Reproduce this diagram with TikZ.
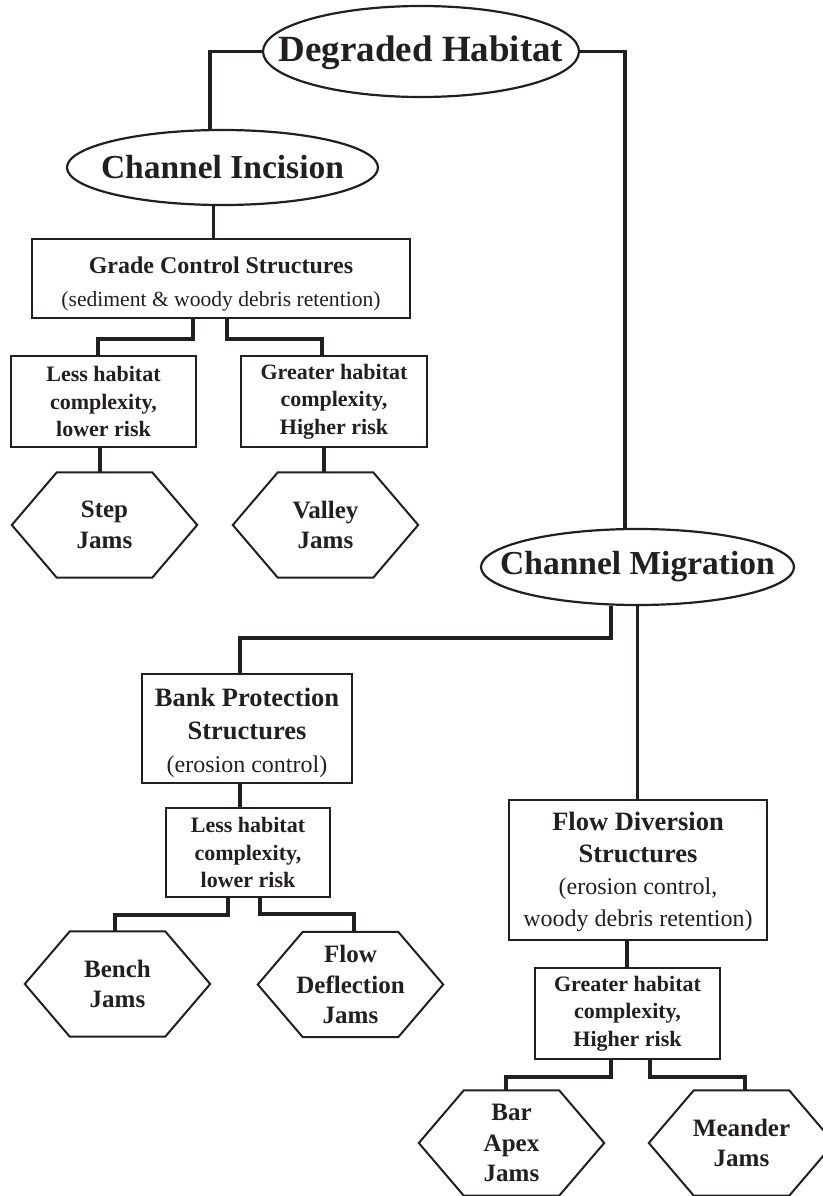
\documentclass[tikz,border=0pt]{standalone}
\usepackage{fontspec}
\setmainfont{Liberation Serif}
\usetikzlibrary{shapes.geometric}
\definecolor{ink}{RGB}{35,31,32}
\newcommand\hexframe[1]{\draw[frame] (#1.west) -- ([xshift=45pt]#1.north west) -- ([xshift=-45pt]#1.north east) -- (#1.east) -- ([xshift=-45pt]#1.south east) -- ([xshift=45pt]#1.south west) -- cycle;}
\begin{document}
\begin{tikzpicture}[x=1pt,y=-1pt,
  frame/.style={draw=ink, line width=2pt, line join=miter},
  oval/.style={ellipse, draw=ink, line width=2.2pt, inner sep=0pt, text=ink},
  box/.style={rectangle, draw=ink, line width=2pt, inner sep=0pt, align=center, text=ink},
  smallbox/.style={box, minimum width=185pt, minimum height=91pt, font=\bfseries\fontsize{22}{27.5}\selectfont},
  hexa/.style={rectangle, inner sep=0pt, minimum width=185pt, minimum height=105pt, align=center, text=ink, font=\bfseries\fontsize{25}{30.5}\selectfont},
  link/.style={draw=ink, line width=3.8pt, line join=miter}]
\useasboundingbox (0,0) rectangle (822,1196);

% ovals
\node[oval, minimum width=316pt, minimum height=91pt, font=\bfseries\fontsize{37}{44}\selectfont] (dh) at (421,51.5) {\makebox[0pt]{\rule{0pt}{29pt}Degraded Habitat}};
\node[oval, minimum width=311pt, minimum height=75pt, font=\bfseries\fontsize{33.5}{40}\selectfont] (ci) at (222.5,167.5) {\makebox[0pt]{Channel Incision}};
\node[oval, minimum width=313pt, minimum height=76pt, font=\bfseries\fontsize{33.5}{40}\selectfont] (cm) at (637.5,567) {\makebox[0pt]{Channel Migration}};

% boxes
\node[box, minimum width=378pt, minimum height=79pt, font=\fontsize{24}{33}\selectfont] (gc) at (221,278.5)
  {\bfseries\rule{0pt}{27pt}Grade Control Structures\\ \mdseries\fontsize{21.6}{33}\selectfont (sediment \& woody debris retention)};
\node[smallbox] (l1) at (103.5,401.5) {Less habitat\\complexity,\\lower risk};
\node[smallbox, minimum width=186pt] (g1) at (334,401.5) {Greater habitat\\complexity,\\Higher risk};
\node[box, minimum width=210pt, minimum height=109pt, font=\fontsize{26.5}{33}\selectfont] (bp) at (247,728.5)
  {\bfseries\rule{0pt}{28pt}Bank Protection\\ \bfseries Structures\\ \mdseries\fontsize{24}{33}\selectfont (erosion control)};
\node[smallbox, minimum width=164pt, minimum height=89pt] (l2) at (248,852.5) {Less habitat\\complexity,\\lower risk};
\node[box, minimum width=258pt, minimum height=140pt, font=\fontsize{26.5}{32}\selectfont] (fd) at (638,870)
  {\bfseries\rule{0pt}{23pt}Flow Diversion\\ \bfseries Structures\\ \mdseries\fontsize{24}{32}\selectfont (erosion control,\\ \mdseries\fontsize{24}{32}\selectfont woody debris retention)};
\node[smallbox] (g2) at (627.5,1013.5) {Greater habitat\\complexity,\\Higher risk};

% hexagons
\node[hexa] (step) at (104.5,525) {Step\\Jams};
\node[hexa] (valley) at (325.5,525) {Valley\\Jams};
\node[hexa] (bench) at (117.5,984) {Bench\\Jams};
\node[hexa] (flowdef) at (350.5,984.5) {Flow\\Deflection\\Jams};
\node[hexa] (barapex) at (511.5,1143) {Bar\\Apex\\Jams};
\node[hexa] (meander) at (741.5,1143) {Meander\\Jams};
\hexframe{step}
\hexframe{valley}
\hexframe{bench}
\hexframe{flowdef}
\hexframe{barapex}
\hexframe{meander}

% connectors
\draw[link] (dh.west) -| ([xshift=-12.5pt]ci.north);
\draw[link] (dh.east) -| ([xshift=-12.5pt]cm.north);
\draw[link] ([xshift=-9pt]ci.south) -- ([xshift=-9pt]ci.south |- gc.north);
\draw[link] ([xshift=-28pt]gc.south) -- ++(0,20) -| ([xshift=-5.5pt]l1.north);
\draw[link] ([xshift=6pt]gc.south) -- ++(0,20) -| ([xshift=-12pt]g1.north);
\draw[link] ([xshift=-3.5pt]l1.south) -- ([xshift=-3.5pt]l1.south |- step.north);
\draw[link] ([xshift=-10pt]g1.south) -- ([xshift=-10pt]g1.south |- valley.north);
\draw[link] ([xshift=-26.5pt]cm.south) -- ++(0,32) -| ([xshift=-7pt]bp.north);
\draw[link] (cm.south) -- (cm.south |- fd.north);
\draw[link] ([xshift=-7pt]bp.south) -- ([xshift=-7pt]bp.south |- l2.north);
\draw[link] ([xshift=-20pt]l2.south) -- ++(0,17) -| ([xshift=-2.5pt]bench.north);
\draw[link] ([xshift=12pt]l2.south) -- ++(0,16) -| ([xshift=3.5pt]flowdef.north);
\draw[link] ([xshift=-11pt]fd.south) -- ([xshift=-11pt]fd.south |- g2.north);
\draw[link] ([xshift=-16.5pt]g2.south) -- ++(0,17) -| ([xshift=-5.5pt]barapex.north);
\draw[link] ([xshift=22.5pt]g2.south) -- ++(0,17) -| ([xshift=3.5pt]meander.north);
\end{tikzpicture}
\end{document}
